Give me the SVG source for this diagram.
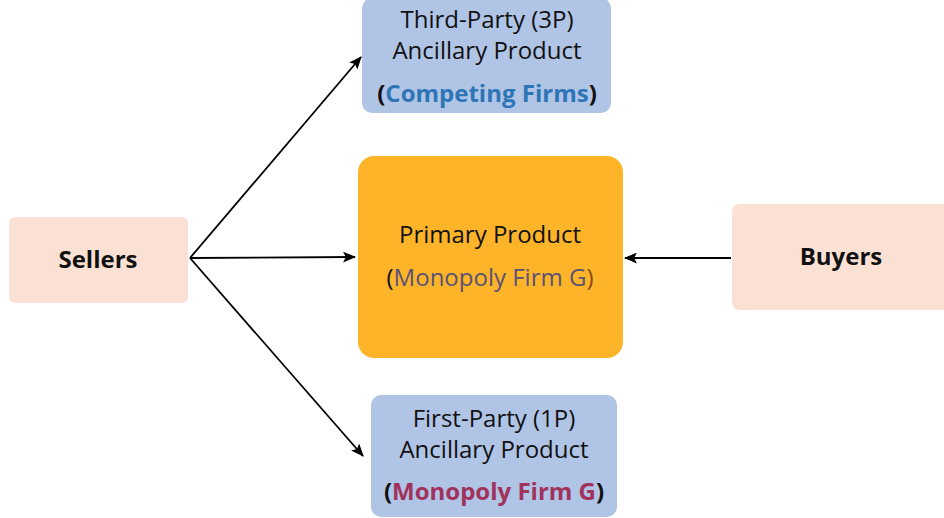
<svg xmlns="http://www.w3.org/2000/svg" width="944" height="518" viewBox="0 0 944 518">
  <defs>
    <style>
      .t { font-family: "Open Sans", "Liberation Sans", sans-serif; font-size: 24px; fill: #111; text-anchor: middle; }
      .b { font-weight: bold; }
      .blue { fill: #B0C4E6; }
      .peach { fill: #FBE1D4; }
      .orange { fill: #FDB428; }
      .conn { stroke: #000; stroke-width: 1.8; fill: none; marker-end: url(#arrow); }
    </style>
    <marker id="arrow" viewBox="0 0 12 10" refX="11" refY="5" markerWidth="13" markerHeight="11" orient="auto" markerUnits="userSpaceOnUse">
      <path d="M0,0 L12,5 L0,10 L2.5,5 z" fill="#000"/>
    </marker>
  </defs>
  <rect width="944" height="518" fill="#fff"/>

  <g id="connectors">
    <line class="conn" x1="190" y1="258" x2="361" y2="57"/>
    <line class="conn" x1="190" y1="258" x2="355" y2="257"/>
    <line class="conn" x1="731" y1="258" x2="625" y2="258"/>
    <line class="conn" x1="190" y1="258" x2="363" y2="456"/>
  </g>

  <g id="third-party">
    <rect class="blue" x="362" y="-2" width="249" height="115" rx="10"/>
    <text class="t" x="487" y="28">Third-Party (3P)</text>
    <text class="t" x="487" y="59">Ancillary Product</text>
    <text class="t b" x="487" y="102">(<tspan fill="#2E75B6">Competing Firms</tspan>)</text>
  </g>

  <g id="primary">
    <rect class="orange" x="358" y="156" width="265" height="202" rx="16"/>
    <text class="t" x="490" y="243">Primary Product</text>
    <text class="t" x="490" y="286">(<tspan fill="#5B5277">Monopoly Firm G</tspan><tspan fill="#8A4A1E">)</tspan></text>
  </g>

  <g id="first-party">
    <rect class="blue" x="371" y="395" width="246" height="122" rx="10"/>
    <text class="t" x="494" y="427">First-Party (1P)</text>
    <text class="t" x="494" y="458">Ancillary Product</text>
    <text class="t b" x="494" y="500">(<tspan fill="#A0325C">Monopoly Firm G</tspan>)</text>
  </g>

  <g id="sellers">
    <rect class="peach" x="9" y="217" width="179" height="86" rx="6"/>
    <text class="t b" x="98" y="268">Sellers</text>
  </g>

  <g id="buyers">
    <rect class="peach" x="732" y="204" width="230" height="106" rx="8"/>
    <text class="t b" x="841" y="265">Buyers</text>
  </g>
</svg>
